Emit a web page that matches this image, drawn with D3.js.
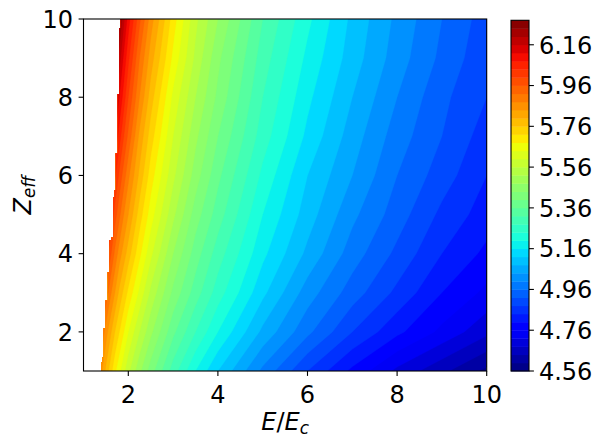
<!DOCTYPE html>
<html><head><meta charset="utf-8">
<script src="https://cdn.jsdelivr.net/npm/d3@7"></script>
<style>body{margin:0;background:#fff}svg text{font-family:"DejaVu Sans";fill:#000}</style>
</head><body><svg id="c" width="604" height="446"></svg>
<script>
// ---------------- data ----------------
const eNodes = [1.3,1.4,1.5,1.6,1.7,1.8,1.9,2.0,2.25,2.5,3,3.5,4,5,6,7,8,9,10];
const zNodes = [1,2,3,4,5,6,7,8,9,10];
const valZ1  = [5.91,5.85,5.79,5.74,5.69,5.65,5.61,5.57,5.49,5.42,5.30,5.20,5.12,4.99,4.88,4.79,4.71,4.65,4.59];
const valZ2  = [5.99,5.92,5.86,5.81,5.76,5.72,5.68,5.64,5.56,5.49,5.37,5.28,5.20,5.07,4.97,4.88,4.81,4.75,4.69];
const valZ3  = [6.09,6.01,5.95,5.89,5.84,5.79,5.75,5.71,5.63,5.55,5.43,5.34,5.26,5.13,5.02,4.94,4.87,4.80,4.75];
const valZ4  = [6.19,6.11,6.03,5.97,5.91,5.86,5.82,5.78,5.69,5.61,5.48,5.38,5.30,5.17,5.07,4.98,4.91,4.84,4.79];
const valZ5  = [6.30,6.20,6.12,6.05,5.98,5.93,5.88,5.84,5.74,5.66,5.53,5.42,5.34,5.20,5.10,5.01,4.94,4.87,4.82];
const valZ6  = [6.42,6.30,6.20,6.12,6.05,5.99,5.94,5.89,5.79,5.70,5.57,5.46,5.37,5.23,5.12,5.04,4.96,4.90,4.84];
const valZ7  = [6.55,6.41,6.29,6.20,6.12,6.06,6.00,5.95,5.83,5.74,5.60,5.49,5.40,5.26,5.15,5.06,4.98,4.92,4.86];
const valZ8  = [6.70,6.52,6.39,6.28,6.19,6.12,6.06,6.00,5.88,5.78,5.63,5.52,5.43,5.28,5.17,5.08,5.00,4.93,4.88];
const valZ9  = [6.89,6.65,6.48,6.36,6.26,6.18,6.11,6.05,5.92,5.82,5.67,5.55,5.45,5.30,5.19,5.10,5.02,4.95,4.89];
const valZ10 = [7.14,6.80,6.59,6.45,6.34,6.25,6.17,6.10,5.97,5.86,5.70,5.57,5.48,5.32,5.21,5.11,5.03,4.96,4.90];
// edge of the defined region (staircase): upper Z of each step and its E
const edgeStepZ = [10, 9.77, 8.08, 6.57, 5.63, 5.45, 4.42, 4.35, 3.53, 2.81, 2.10, 1.36, 1.23];
const edgeStepE = [1.83, 1.80, 1.763, 1.719, 1.688, 1.658, 1.614, 1.576, 1.540, 1.487, 1.442, 1.413, 1.391];
const xTicks = [2,4,6,8,10];
const yTicks = [2,4,6,8,10];
const cbTicks = [4.56,4.76,4.96,5.16,5.36,5.56,5.76,5.96,6.16];
const levelMin = 4.56, levelStep = 0.04, levelCount = 43;

// ---------------- drawing ----------------
const svg = d3.select("#c");
const FS = 24;
const L = 83.5, R = 486.7, T = 19, B = 371;
const x = d3.scaleLinear([1,10],[L,R]);
const y = d3.scaleLinear([1,10],[B,T]);

function jet(t){
  const seg = {
    r:[[0,0],[0.35,0],[0.66,1],[0.89,1],[1,0.5]],
    g:[[0,0],[0.125,0],[0.375,1],[0.64,1],[0.91,0],[1,0]],
    b:[[0,0.5],[0.11,1],[0.34,1],[0.65,0],[1,0]]
  };
  let i = Math.max(0, Math.min(255, Math.floor(t*256)));
  const tt = i/255;
  const ev = s => { for(let k=1;k<s.length;k++){ if(tt<=s[k][0]){ const a=s[k-1],b=s[k]; return a[1]+(b[1]-a[1])*(tt-a[0])/(b[0]-a[0]); } } return s[s.length-1][1]; };
  return d3.rgb(255*ev(seg.r),255*ev(seg.g),255*ev(seg.b)).toString();
}

const levels = d3.range(levelCount+1).map(k => +(levelMin + k*levelStep).toFixed(2));
const vmin = levels[0], vmax = levels[levels.length-1];
const bandColor = k => jet(((levels[k]+levels[k+1])/2 - vmin)/(vmax - vmin));

const rows = [valZ1,valZ2,valZ3,valZ4,valZ5,valZ6,valZ7,valZ8,valZ9,valZ10];
const nx = eNodes.length, ny = zNodes.length;
const values = rows.flat();
const ix = d3.scaleLinear(d3.range(nx), eNodes).clamp(true);
const iy = d3.scaleLinear(d3.range(ny), zNodes).clamp(true);
const proj = d3.geoTransform({point(px,py){ this.stream.point(x(ix(px-0.5)), y(iy(py-0.5))); }});
const path = d3.geoPath(proj);
const cont = d3.contours().size([nx,ny]).thresholds(levels)(values);

// clip: defined region right of the edge staircase
const edgePts = [];
edgeStepZ.forEach((z,i)=>{
  const zLow = i+1<edgeStepZ.length ? edgeStepZ[i+1] : 1;
  edgePts.push([edgeStepE[i], z]); edgePts.push([edgeStepE[i], zLow]);
});
const clipPts = [[10,10], ...edgePts, [10,1]].map(p=>[x(p[0]),y(p[1])]);
svg.append("clipPath").attr("id","cp").append("path").attr("d", d3.line()(clipPts)+"Z");
svg.append("clipPath").attr("id","ax").append("rect").attr("x",L).attr("y",T).attr("width",R-L).attr("height",B-T);

const g = svg.append("g").attr("clip-path","url(#ax)").append("g").attr("clip-path","url(#cp)");
cont.forEach((c,k)=>{
  const fill = k < levelCount ? bandColor(k) : "#fff";
  g.append("path").attr("d", path(c)).attr("fill", fill).attr("stroke", fill).attr("stroke-width", 0.3);
});

// frame
svg.append("rect").attr("x",L).attr("y",T).attr("width",R-L).attr("height",B-T)
  .attr("fill","none").attr("stroke","#000").attr("stroke-width",1.1);

// axes ticks
const tl = 4.9;
xTicks.forEach(v=>{
  svg.append("line").attr("x1",x(v)).attr("x2",x(v)).attr("y1",B).attr("y2",B+tl).attr("stroke","#000").attr("stroke-width",1.1);
  svg.append("text").attr("x",x(v)).attr("y",403).attr("text-anchor","middle").attr("font-size",FS).text(v);
});
yTicks.forEach(v=>{
  svg.append("line").attr("x1",L-tl).attr("x2",L).attr("y1",y(v)).attr("y2",y(v)).attr("stroke","#000").attr("stroke-width",1.1);
  svg.append("text").attr("x",L-tl-5.5).attr("y",y(v)+8.8).attr("text-anchor","end").attr("font-size",FS).text(v);
});

// axis labels
const xl = svg.append("text").attr("x",(L+R)/2).attr("y",430).attr("text-anchor","middle").attr("font-size",FS);
xl.append("tspan").attr("font-style","italic").text("E");
xl.append("tspan").text("/");
xl.append("tspan").attr("font-style","italic").text("E");
xl.append("tspan").attr("font-style","italic").attr("font-size",FS*0.7).attr("dy",4).text("c");

const yl = svg.append("text").attr("transform",`translate(31,${(T+B)/2}) rotate(-90)`).attr("text-anchor","middle").attr("font-size",FS);
yl.append("tspan").attr("font-style","italic").text("Z");
yl.append("tspan").attr("font-style","italic").attr("font-size",FS*0.7).attr("dy",4).text("eff");

// colorbar
const cbL = 511, cbR = 529;
const cb = d3.scaleLinear([vmin,vmax],[B,20.3]);
for(let k=0;k<levelCount;k++){
  svg.append("rect").attr("x",cbL).attr("width",cbR-cbL)
    .attr("y",cb(levels[k+1])).attr("height",cb(levels[k])-cb(levels[k+1])+0.4)
    .attr("fill",bandColor(k));
}
svg.append("rect").attr("x",cbL).attr("y",cb(vmax)).attr("width",cbR-cbL).attr("height",cb(vmin)-cb(vmax))
  .attr("fill","none").attr("stroke","#000").attr("stroke-width",1.1);
cbTicks.forEach(v=>{
  svg.append("line").attr("x1",cbR).attr("x2",cbR+tl).attr("y1",cb(v)).attr("y2",cb(v)).attr("stroke","#000").attr("stroke-width",1.1);
  svg.append("text").attr("x",cbR+tl+5).attr("y",cb(v)+8.8).attr("font-size",FS).text(v.toFixed(2));
});
</script></body></html>
